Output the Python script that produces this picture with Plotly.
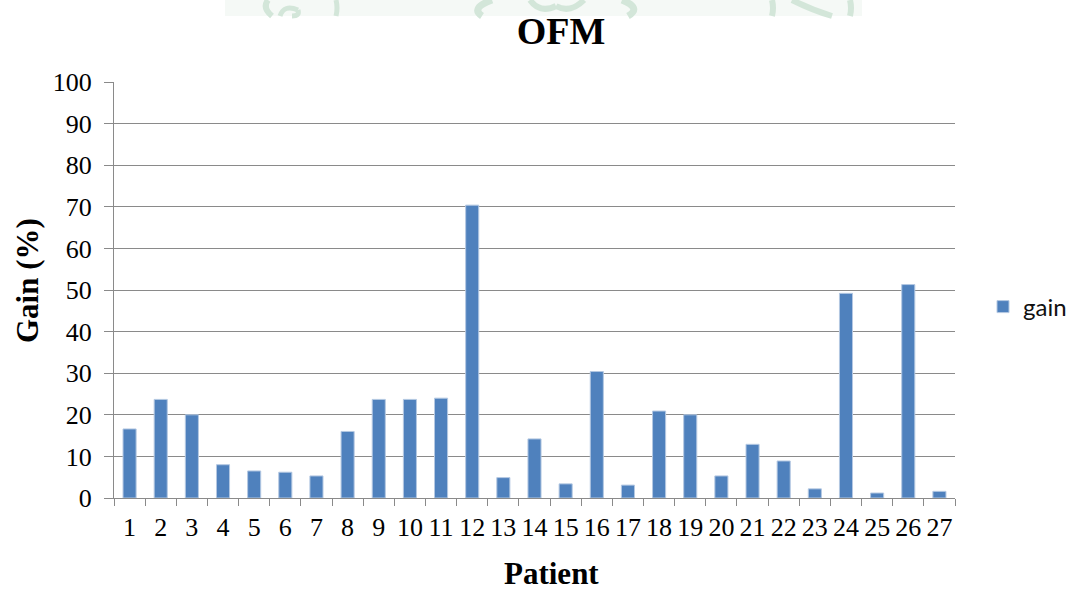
import plotly.graph_objects as go

# Patient numbers and OFM gain (%) per patient
patients = ["1", "2", "3", "4", "5", "6", "7", "8", "9", "10", "11", "12", "13", "14",
            "15", "16", "17", "18", "19", "20", "21", "22", "23", "24", "25", "26", "27"]
gain = [16.6, 23.7, 20.0, 8.0, 6.5, 6.2, 5.3, 16.0, 23.7, 23.7, 24.0, 70.4, 4.9, 14.2,
        3.4, 30.4, 3.1, 20.9, 20.0, 5.3, 12.9, 8.9, 2.2, 49.2, 1.2, 51.3, 1.6]
y_ticks = [0, 10, 20, 30, 40, 50, 60, 70, 80, 90, 100]

W, H = 1070, 590
L, R, T, B = 114, 955, 82, 498          # plot area in pixels

BAR = "#4F81BD"
GRID = "#8a8a8a"
SERIF = "Liberation Serif, Times New Roman, serif"


def px(x, y):
    """pixel position -> paper coordinates"""
    return (x - L) / (R - L), (B - y) / (B - T)


fig = go.Figure()
fig.add_trace(go.Bar(
    x=patients, y=gain, name="gain",
    marker=dict(color=BAR, line=dict(color="#b4c8e2", width=1)),
))

# faint letterhead band at the very top of the page
shapes = []
x0, y0 = px(225, 0)
x1, y1 = px(862, 16)
shapes.append(dict(type="rect", xref="paper", yref="paper", x0=x0, y0=y0, x1=x1, y1=y1,
                   fillcolor="#f5f9f6", line=dict(width=0), layer="below"))


def stroke(points, width=6, color="#d3e6d9"):
    p = [px(a, b) for a, b in points]
    d = "M {},{} ".format(*p[0]) + " ".join(
        "Q {},{} {},{}".format(p[i][0], p[i][1], p[i + 1][0], p[i + 1][1])
        for i in range(1, len(p) - 1, 2))
    shapes.append(dict(type="path", xref="paper", yref="paper", path=d,
                       line=dict(color=color, width=width), layer="below"))


stroke([(268, 0), (262, 8), (272, 16)])
stroke([(280, 16), (284, 4), (298, 10)], width=5)
stroke([(298, 10), (300, 16), (292, 16)], width=5)
stroke([(336, 0), (338, 8), (336, 16)], width=5)
stroke([(492, 0), (470, 8), (482, 16)], width=7)
stroke([(530, 0), (540, 14), (556, 6)], width=6)
stroke([(556, 6), (570, 14), (584, 0)], width=6)
stroke([(622, 0), (642, 8), (628, 16)], width=7)
stroke([(772, 0), (774, 8), (772, 16)], width=6)
stroke([(792, 0), (812, 10), (832, 16)], width=6)
stroke([(850, 0), (852, 8), (850, 16)], width=6)

# axis titles placed as text
annotations = []
ax_, ay_ = px(551, 573)
annotations.append(dict(text="Patient", x=ax_, y=ay_, xref="paper", yref="paper",
                        showarrow=False, xanchor="center", yanchor="middle",
                        font=dict(family=SERIF, size=31, color="#000", weight="bold")))
gx, gy = px(27, 281)
annotations.append(dict(text="Gain (%)", x=gx, y=gy, xref="paper", yref="paper",
                        showarrow=False, xanchor="center", yanchor="middle", textangle=-90,
                        font=dict(family=SERIF, size=31, color="#000", weight="bold")))

lx, ly = px(983, 307)

fig.update_layout(
    width=W, height=H,
    margin=dict(l=L, r=W - R, t=T, b=H - B, pad=0, autoexpand=False),
    paper_bgcolor="white", plot_bgcolor="white",
    bargap=0.58,
    title=dict(text="OFM", x=561 / W, y=1 - 31 / H, xref="container", yref="container",
               xanchor="center", yanchor="middle",
               font=dict(family=SERIF, size=38, color="#000", weight="bold")),
    xaxis=dict(
        type="category", tickmode="linear", tick0=0, dtick=1, tickangle=0,
        tickson="boundaries", ticks="outside", ticklen=7, tickcolor=GRID, tickwidth=1,
        showline=True, linecolor=GRID, linewidth=1, showgrid=False, zeroline=False,
        tickfont=dict(family=SERIF, size=26, color="#000"), ticklabelstandoff=6,
    ),
    yaxis=dict(
        range=[0, 100], tickvals=y_ticks, ticks="outside", ticklen=9, tickcolor=GRID,
        tickwidth=1, showline=True, linecolor=GRID, linewidth=1,
        showgrid=True, gridcolor=GRID, gridwidth=1, zeroline=False,
        tickfont=dict(family=SERIF, size=26, color="#000"), ticklabelstandoff=7,
    ),
    showlegend=True,
    legend=dict(x=lx, y=ly, xref="paper", yref="paper", xanchor="left", yanchor="middle",
                bgcolor="rgba(0,0,0,0)", borderwidth=0,
                font=dict(family="Lato, Liberation Sans, sans-serif", size=24, color="#111"),
                itemwidth=30),
    shapes=shapes,
    annotations=annotations,
)

fig.write_html("out.html")
